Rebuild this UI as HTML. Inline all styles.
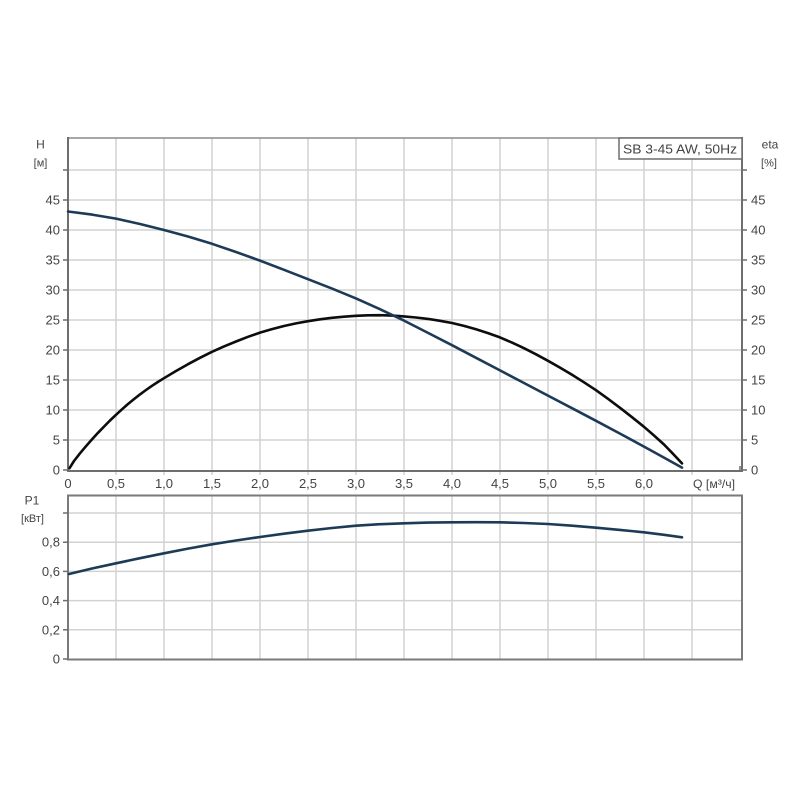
<!DOCTYPE html>
<html>
<head>
<meta charset="utf-8">
<style>
html,body{margin:0;padding:0;background:#fff;}
svg{display:block;}
text{font-family:"Liberation Sans","DejaVu Sans",sans-serif;fill:#444;}
</style>
</head>
<body>
<svg width="800" height="800" viewBox="0 0 800 800" xmlns="http://www.w3.org/2000/svg">
<rect x="0" y="0" width="800" height="800" fill="#fff"/>

<!-- ===== TOP PLOT GRID ===== -->
<g stroke="#d2d2d2" stroke-width="1.5" fill="none">
  <line x1="116" y1="138" x2="116" y2="475"/>
  <line x1="164" y1="138" x2="164" y2="475"/>
  <line x1="212" y1="138" x2="212" y2="475"/>
  <line x1="260" y1="138" x2="260" y2="475"/>
  <line x1="308" y1="138" x2="308" y2="475"/>
  <line x1="356" y1="138" x2="356" y2="475"/>
  <line x1="404" y1="138" x2="404" y2="475"/>
  <line x1="452" y1="138" x2="452" y2="475"/>
  <line x1="500" y1="138" x2="500" y2="475"/>
  <line x1="548" y1="138" x2="548" y2="475"/>
  <line x1="596" y1="138" x2="596" y2="475"/>
  <line x1="644" y1="138" x2="644" y2="475"/>
  <line x1="692" y1="138" x2="692" y2="475"/>
  <line x1="68" y1="170" x2="742" y2="170"/>
  <line x1="68" y1="200" x2="742" y2="200"/>
  <line x1="68" y1="230" x2="742" y2="230"/>
  <line x1="68" y1="260" x2="742" y2="260"/>
  <line x1="68" y1="290" x2="742" y2="290"/>
  <line x1="68" y1="320" x2="742" y2="320"/>
  <line x1="68" y1="350" x2="742" y2="350"/>
  <line x1="68" y1="380" x2="742" y2="380"/>
  <line x1="68" y1="410" x2="742" y2="410"/>
  <line x1="68" y1="440" x2="742" y2="440"/>
</g>

<!-- top plot frame -->
<line x1="68" y1="138" x2="742" y2="138" stroke="#8a8a8a" stroke-width="1.5"/>
<line x1="68" y1="137" x2="68" y2="472" stroke="#6e6e6e" stroke-width="2"/>
<line x1="742" y1="137" x2="742" y2="472" stroke="#6e6e6e" stroke-width="2"/>
<line x1="67" y1="471" x2="743" y2="471" stroke="#6e6e6e" stroke-width="2"/>
<line x1="740" y1="466" x2="740" y2="471" stroke="#6e6e6e" stroke-width="1.5"/>

<g stroke="#6e6e6e" stroke-width="1.5">
  <line x1="63" y1="170" x2="68" y2="170"/>
  <line x1="63" y1="200" x2="68" y2="200"/>
  <line x1="63" y1="230" x2="68" y2="230"/>
  <line x1="63" y1="260" x2="68" y2="260"/>
  <line x1="63" y1="290" x2="68" y2="290"/>
  <line x1="63" y1="320" x2="68" y2="320"/>
  <line x1="63" y1="350" x2="68" y2="350"/>
  <line x1="63" y1="380" x2="68" y2="380"/>
  <line x1="63" y1="410" x2="68" y2="410"/>
  <line x1="63" y1="440" x2="68" y2="440"/>
  <line x1="63" y1="470" x2="68" y2="470"/>
  <line x1="742" y1="170" x2="747" y2="170"/>
  <line x1="742" y1="200" x2="747" y2="200"/>
  <line x1="742" y1="230" x2="747" y2="230"/>
  <line x1="742" y1="260" x2="747" y2="260"/>
  <line x1="742" y1="290" x2="747" y2="290"/>
  <line x1="742" y1="320" x2="747" y2="320"/>
  <line x1="742" y1="350" x2="747" y2="350"/>
  <line x1="742" y1="380" x2="747" y2="380"/>
  <line x1="742" y1="410" x2="747" y2="410"/>
  <line x1="742" y1="440" x2="747" y2="440"/>
  <line x1="742" y1="470" x2="747" y2="470"/>
</g>

<g font-size="13" text-anchor="end">
  <text x="60" y="204.5">45</text>
  <text x="60" y="234.5">40</text>
  <text x="60" y="264.5">35</text>
  <text x="60" y="294.5">30</text>
  <text x="60" y="324.5">25</text>
  <text x="60" y="354.5">20</text>
  <text x="60" y="384.5">15</text>
  <text x="60" y="414.5">10</text>
  <text x="60" y="444.5">5</text>
  <text x="60" y="474.5">0</text>
</g>
<g font-size="13" text-anchor="start">
  <text x="751" y="204.5">45</text>
  <text x="751" y="234.5">40</text>
  <text x="751" y="264.5">35</text>
  <text x="751" y="294.5">30</text>
  <text x="751" y="324.5">25</text>
  <text x="751" y="354.5">20</text>
  <text x="751" y="384.5">15</text>
  <text x="751" y="414.5">10</text>
  <text x="751" y="444.5">5</text>
  <text x="751" y="474.5">0</text>
</g>

<text x="40.5" y="148.5" font-size="12" text-anchor="middle">H</text>
<text x="40.5" y="166.5" font-size="11" text-anchor="middle">[м]</text>
<text x="770" y="148.5" font-size="12" text-anchor="middle">eta</text>
<text x="769" y="166.5" font-size="11" text-anchor="middle">[%]</text>

<g font-size="13" text-anchor="middle">
  <text x="68" y="488">0</text>
  <text x="116" y="488">0,5</text>
  <text x="164" y="488">1,0</text>
  <text x="212" y="488">1,5</text>
  <text x="260" y="488">2,0</text>
  <text x="308" y="488">2,5</text>
  <text x="356" y="488">3,0</text>
  <text x="404" y="488">3,5</text>
  <text x="452" y="488">4,0</text>
  <text x="500" y="488">4,5</text>
  <text x="548" y="488">5,0</text>
  <text x="596" y="488">5,5</text>
  <text x="644" y="488">6,0</text>
</g>
<text x="693" y="488" font-size="12" textLength="42" lengthAdjust="spacingAndGlyphs">Q [м³/ч]</text>

<rect x="619" y="138" width="123" height="21" fill="#fff" stroke="#6e6e6e" stroke-width="1.5"/>
<text x="623" y="153.5" font-size="13" textLength="114" lengthAdjust="spacingAndGlyphs">SB 3-45 AW, 50Hz</text>

<!-- curves top -->
<polyline fill="none" stroke="#0d0d0d" stroke-width="2.6" stroke-linejoin="round" stroke-linecap="round"
  points="69.5,468.2 74,461 80,453.3 86,446.2 92,439.4 98,432.8 104,426.6 110,420.5 116,414.8 122,409.3 128,404 134,399.1 140,394.4 146,390 152,385.8 158,381.9 164,378.2 176,371 188,364.2 200,357.8 212,351.8 224,346.4 236,341.5 248,336.8 260,332.6 272,329.1 284,326 296,323.4 308,321.2 320,319.3 332,317.8 344,316.7 356,315.8 368,315.3 380,315.2 392,315.6 404,316.4 416,317.5 428,318.9 440,320.8 452,323 464,325.9 476,329.3 488,333.1 500,337.4 512,342.6 524,348.2 536,354.3 548,360.8 560,367.6 572,374.8 584,382.3 596,390.2 608,398.8 620,407.8 632,417.2 644,426.8 654,435.5 664,444.5 673,453.8 682,463.4"/>
<polyline fill="none" stroke="#1d3b57" stroke-width="2.6" stroke-linejoin="round" stroke-linecap="round"
  points="68,211.5 92,214.6 116,218.6 140,224 164,230 188,236.5 212,243.8 236,252 260,260.6 284,269.8 308,279.2 332,288.6 356,298.4 380,309.2 404,320.6 428,332.9 452,345.2 476,357.8 500,370.4 524,383 548,395.6 572,408.2 596,420.8 620,433.6 644,446.6 664,457.6 682,467.6"/>

<!-- ===== BOTTOM PLOT ===== -->
<g stroke="#d2d2d2" stroke-width="1.5" fill="none">
  <line x1="116" y1="495" x2="116" y2="659"/>
  <line x1="164" y1="495" x2="164" y2="659"/>
  <line x1="212" y1="495" x2="212" y2="659"/>
  <line x1="260" y1="495" x2="260" y2="659"/>
  <line x1="308" y1="495" x2="308" y2="659"/>
  <line x1="356" y1="495" x2="356" y2="659"/>
  <line x1="404" y1="495" x2="404" y2="659"/>
  <line x1="452" y1="495" x2="452" y2="659"/>
  <line x1="500" y1="495" x2="500" y2="659"/>
  <line x1="548" y1="495" x2="548" y2="659"/>
  <line x1="596" y1="495" x2="596" y2="659"/>
  <line x1="644" y1="495" x2="644" y2="659"/>
  <line x1="692" y1="495" x2="692" y2="659"/>
  <line x1="68" y1="513" x2="742" y2="513"/>
  <line x1="68" y1="542.2" x2="742" y2="542.2"/>
  <line x1="68" y1="571.4" x2="742" y2="571.4"/>
  <line x1="68" y1="600.6" x2="742" y2="600.6"/>
  <line x1="68" y1="629.8" x2="742" y2="629.8"/>
</g>
<rect x="68" y="495.5" width="674" height="164" fill="none" stroke="#7a7a7a" stroke-width="2"/>
<g stroke="#6e6e6e" stroke-width="1.5">
  <line x1="63" y1="513" x2="68" y2="513"/>
  <line x1="63" y1="542.2" x2="68" y2="542.2"/>
  <line x1="63" y1="571.4" x2="68" y2="571.4"/>
  <line x1="63" y1="600.6" x2="68" y2="600.6"/>
  <line x1="63" y1="629.8" x2="68" y2="629.8"/>
  <line x1="63" y1="659" x2="68" y2="659"/>
</g>
<g font-size="13" text-anchor="end">
  <text x="60" y="546.7">0,8</text>
  <text x="60" y="575.9">0,6</text>
  <text x="60" y="605.1">0,4</text>
  <text x="60" y="634.3">0,2</text>
  <text x="60" y="663.5">0</text>
</g>
<text x="32" y="504.5" font-size="12" text-anchor="middle">P1</text>
<text x="32.5" y="522" font-size="11" text-anchor="middle">[кВт]</text>

<polyline fill="none" stroke="#1d3b57" stroke-width="2.6" stroke-linejoin="round" stroke-linecap="round"
  points="69,574 92,568.5 116,563.3 140,558.2 164,553.3 188,548.6 212,544.3 236,540.5 260,537 284,533.7 308,530.7 332,528 356,525.7 380,524.2 404,523.3 428,522.6 452,522.3 476,522.2 500,522.3 524,523 548,524 572,525.7 596,527.7 620,529.9 644,532.3 664,534.8 682,537.3"/>
</svg>
</body>
</html>
